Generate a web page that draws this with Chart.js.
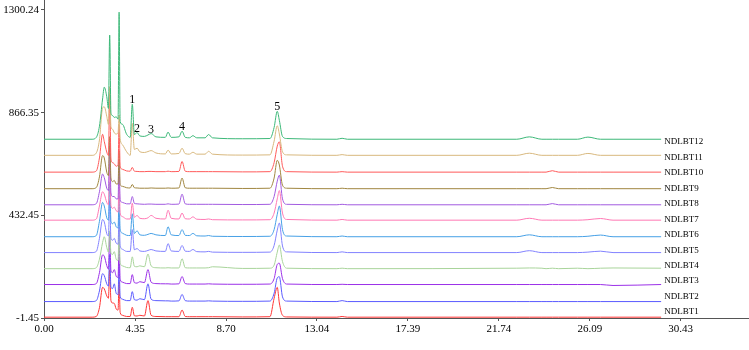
<!DOCTYPE html>
<html>
<head>
<meta charset="utf-8">
<script src="https://cdn.jsdelivr.net/npm/chart.js@4"></script>
<style>
  html, body { margin: 0; padding: 0; background: #fff; }
  canvas { display: block; }
</style>
</head>
<body>
<canvas id="chromChart" width="749" height="350"></canvas>
<script>
// retention times (min) shared by all traces
const times = [
  0, 2.3, 2.5, 2.65, 2.8, 2.88,
  3.0, 3.08, 3.14, 3.2, 3.28, 3.36, 3.45, 3.54, 3.59, 3.64,
  3.75, 3.95, 4.12, 4.22, 4.32, 4.45, 4.58,
  4.8, 4.97, 5.12, 5.35, 5.8, 5.93, 6.08, 6.45, 6.6, 6.75, 6.95, 7.12, 7.3, 7.7, 7.87, 8.05,
  9.5, 10.8, 11.0, 11.15, 11.25, 11.4, 11.6,
  14.0, 14.25, 14.5, 22.6, 23.2, 23.8, 24.0, 24.3, 24.6, 25.5, 26.0, 26.6, 27.2, 29.5
];

const sampleNames = ['NDLBT1', 'NDLBT2', 'NDLBT3', 'NDLBT4', 'NDLBT5', 'NDLBT6',
  'NDLBT7', 'NDLBT8', 'NDLBT9', 'NDLBT10', 'NDLBT11', 'NDLBT12'];
const sampleColors = ['#ff3535', '#5a5aff', '#9b30e8', '#a8d49a', '#8282ff', '#46a0e6',
  '#ff78b4', '#a25be0', '#a08640', '#ff5a5a', '#d8b87e', '#3cb878'];
// vertical offset of each trace baseline
const offsets = [2, 68, 140, 207, 275, 342, 412, 477, 545, 615, 686, 754];

// signal of each trace (above its own baseline)
const ndlbt1 = [
  0, 0, 3, 40, 126, 120,
  90, 80, 200, 70, 60, 58, 35, 30, 150, 20,
  8, 3, 3, 42, 6, 5, 8,
  5, 70, 8, 3, 2, 2, 2, 2, 30, 3, 2, 2, 2, 2, 2, 2,
  1, 2, 80, 126, 60, 8, 1,
  0, 3, 0, 0, 0, 0, 0, 0, 0, 0, 0, 0, 0, 0
];
const ndlbt2 = [
  0, 0, 4, 45, 118, 110,
  75, 65, 200, 60, 55, 75, 35, 30, 160, 22,
  10, 4, 4, 42, 8, 6, 12,
  8, 75, 10, 4, 3, 3, 2, 3, 30, 4, 2, 2, 2, 2, 3, 2,
  1, 2, 35, 100, 105, 20, 2,
  0, 4, 0, 0, 0, 0, 0, 0, 0, 0, 0, 0, 0, 0
];
const ndlbt3 = [
  0, 0, 4, 50, 125, 120,
  80, 65, 220, 60, 50, 63, 35, 30, 180, 22,
  10, 4, 4, 42, 8, 6, 12,
  8, 63, 10, 4, 3, 3, 2, 3, 34, 4, 2, 2, 2, 2, 3, 2,
  1, 2, 25, 85, 90, 25, 2,
  0, 1, 0, 0, 0, 0, 0, 0, 0, 0, 0, 0, -4, 0
];
const ndlbt4 = [
  0, 0, 4, 40, 110, 135,
  90, 70, 160, 65, 60, 72, 40, 35, 170, 25,
  12, 5, 4, 50, 10, 8, 12,
  8, 62, 12, 4, 3, 4, 3, 3, 42, 4, 3, 3, 3, 3, 4, 8,
  1, 2, 15, 70, 100, 30, 2,
  0, 2, 0, 2, 3, 2, 0, 2, 0, 2, 0, 2, 3, 2
];
const ndlbt5 = [
  0, 0, 5, 60, 140, 130,
  80, 70, 220, 60, 52, 60, 40, 36, 160, 30,
  14, 5, 5, 97, 12, 17, 7,
  5, 9, 13, 7, 5, 38, 7, 5, 30, 6, 5, 13, 4, 3, 5, 2,
  1, 2, 30, 95, 125, 28, 3,
  0, 3, 0, 0, 8, 0, 0, 0, 0, 0, 2, 6, 0, 0
];
const ndlbt6 = [
  0, 0, 5, 65, 145, 130,
  80, 70, 230, 65, 55, 62, 42, 38, 170, 32,
  15, 6, 5, 97, 14, 25, 8,
  6, 10, 14, 8, 5, 42, 8, 5, 30, 6, 5, 14, 4, 3, 5, 2,
  1, 2, 30, 95, 130, 30, 3,
  0, 3, 0, 0, 8, 0, 0, 0, 0, 0, 2, 7, 0, 0
];
const ndlbt7 = [
  0, 0, 5, 60, 120, 110,
  75, 65, 240, 60, 50, 55, 40, 35, 180, 30,
  15, 5, 5, 72, 12, 20, 8,
  6, 10, 20, 8, 5, 42, 8, 5, 30, 6, 5, 14, 4, 3, 5, 2,
  1, 2, 30, 90, 125, 30, 3,
  0, 3, 0, 0, 8, 0, 0, 0, 0, 0, 2, 7, 0, 0
];
const ndlbt8 = [
  0, 0, 5, 55, 130, 115,
  70, 60, 250, 50, 35, 35, 25, 25, 190, 20,
  10, 4, 4, 35, 6, 4, 3,
  2, 3, 3, 2, 2, 4, 2, 3, 45, 4, 2, 2, 2, 2, 2, 2,
  1, 2, 35, 100, 125, 25, 2,
  0, 2, 0, 0, 0, 0, 0, 5, 0, 0, 0, 0, 0, 0
];
const ndlbt9 = [
  0, 0, 5, 50, 140, 130,
  70, 55, 220, 45, 30, 35, 20, 20, 160, 18,
  10, 4, 3, 18, 4, 3, 2,
  2, 2, 3, 2, 2, 3, 2, 3, 45, 4, 2, 2, 2, 2, 2, 2,
  1, 2, 45, 120, 100, 15, 2,
  0, 2, 0, 0, 0, 0, 0, 5, 0, 0, 0, 0, 0, 0
];
const ndlbt10 = [
  0, 0, 5, 60, 160, 130,
  85, 70, 330, 55, 40, 35, 25, 30, 200, 25,
  12, 5, 4, 20, 4, 3, 2,
  2, 3, 3, 2, 2, 4, 2, 3, 45, 4, 2, 2, 2, 2, 2, 2,
  1, 2, 40, 110, 128, 25, 2,
  0, 2, 0, 0, 0, 0, 0, 6, 0, 0, 0, 0, 0, 0
];
const ndlbt11 = [
  0, 0, 10, 65, 200, 205,
  165, 130, 290, 120, 110, 95, 90, 95, 170, 70,
  45, 15, 0, 135, 25, 30, 15,
  12, 16, 20, 10, 6, 22, 6, 8, 30, 7, 5, 13, 5, 5, 17, 5,
  1, 2, 60, 125, 90, 15, 2,
  0, 3, 0, 0, 9, 0, 0, 0, 0, 0, 8, 0, 0, 0
];
const ndlbt12 = [
  0, 0, 8, 55, 170, 220,
  180, 130, 440, 110, 100, 92, 95, 85, 537, 75,
  63, 21, 8, 148, 20, 28, 14,
  12, 18, 24, 10, 8, 30, 8, 10, 34, 8, 6, 15, 6, 6, 20, 6,
  2, 3, 50, 118, 80, 12, 3,
  0, 4, 0, 0, 10, 0, 0, 0, 0, 0, 9, 0, 0, 0
];
const signals = [ndlbt1, ndlbt2, ndlbt3, ndlbt4, ndlbt5, ndlbt6,
  ndlbt7, ndlbt8, ndlbt9, ndlbt10, ndlbt11, ndlbt12];

// numbered peaks marked on the top trace
const peakLabels = ['1', '2', '3', '4', '5'];
const peakTimes = [4.22, 4.45, 5.12, 6.6, 11.15];

const xTicks = [0, 4.35, 8.70, 13.04, 17.39, 21.74, 26.09, 30.43];
const yTicks = [-1.45, 432.45, 866.35, 1300.24];

const axisColor = '#555';
const serif = '"Liberation Serif", "Times New Roman", serif';

// top trace first so it is drawn on top
const datasets = [];
for (let i = signals.length - 1; i >= 0; i--) {
    datasets.push({
        label: sampleNames[i],
        data: times.map((t, k) => ({ x: t, y: offsets[i] + signals[i][k] })),
        borderColor: sampleColors[i],
        borderWidth: 1,
        pointRadius: 0,
        fill: false,
        cubicInterpolationMode: 'monotone'
    });
}

// peak numbers and sample names
const labelPlugin = {
    id: 'chromLabels',
    afterDatasetsDraw(chart) {
        const ctx = chart.ctx;
        const xs = chart.scales.x;
        const ys = chart.scales.y;
        const top = signals.length - 1;
        ctx.save();
        ctx.fillStyle = '#000';

        ctx.font = '12px ' + serif;
        ctx.textAlign = 'center';
        ctx.textBaseline = 'alphabetic';
        peakLabels.forEach((txt, j) => {
            const k = times.indexOf(peakTimes[j]);
            const px = xs.getPixelForValue(peakTimes[j]);
            const py = ys.getPixelForValue(offsets[top] + signals[top][k]);
            ctx.fillText(txt, px, py - 1);
        });

        ctx.font = '9px ' + serif;
        ctx.textAlign = 'left';
        ctx.textBaseline = 'middle';
        const lx = xs.getPixelForValue(times[times.length - 1]) + 3;
        const bottomY = chart.chartArea.bottom - 6;
        const step = 15.45;
        sampleNames.forEach((name, i) => {
            ctx.fillText(name, lx, bottomY - i * step);
        });
        ctx.restore();
    }
};

new Chart(document.getElementById('chromChart'), {
    type: 'line',
    data: { datasets: datasets },
    options: {
        responsive: false,
        animation: false,
        devicePixelRatio: 1,
        layout: { padding: 0 },
        plugins: {
            legend: { display: false },
            tooltip: { enabled: false }
        },
        scales: {
            x: {
                type: 'linear',
                min: 0,
                max: 33.7,
                afterBuildTicks: (s) => { s.ticks = xTicks.map(v => ({ value: v })); },
                afterFit: (s) => {
                    s.height = 32;
                    s.paddingLeft = 0;
                    s.paddingRight = 0;
                },
                border: { display: true, color: axisColor, width: 1 },
                grid: { drawOnChartArea: false, drawTicks: true, tickLength: 3, color: axisColor },
                ticks: {
                    autoSkip: false,
                    maxRotation: 0,
                    padding: 2,
                    color: '#000',
                    font: { family: serif, size: 11 },
                    callback: (v) => Number(v).toFixed(2)
                }
            },
            y: {
                type: 'linear',
                min: -1.45,
                max: 1342.4,
                afterBuildTicks: (s) => { s.ticks = yTicks.map(v => ({ value: v })); },
                afterFit: (s) => {
                    s.width = 44;
                    s.paddingTop = 0;
                    s.paddingBottom = 0;
                },
                border: { display: true, color: axisColor, width: 1 },
                grid: { drawOnChartArea: false, drawTicks: true, tickLength: 3, color: axisColor },
                ticks: {
                    padding: 2,
                    color: '#000',
                    font: { family: serif, size: 11 },
                    callback: (v) => Number(v).toFixed(2)
                }
            }
        }
    },
    plugins: [labelPlugin]
});
</script>
</body>
</html>
